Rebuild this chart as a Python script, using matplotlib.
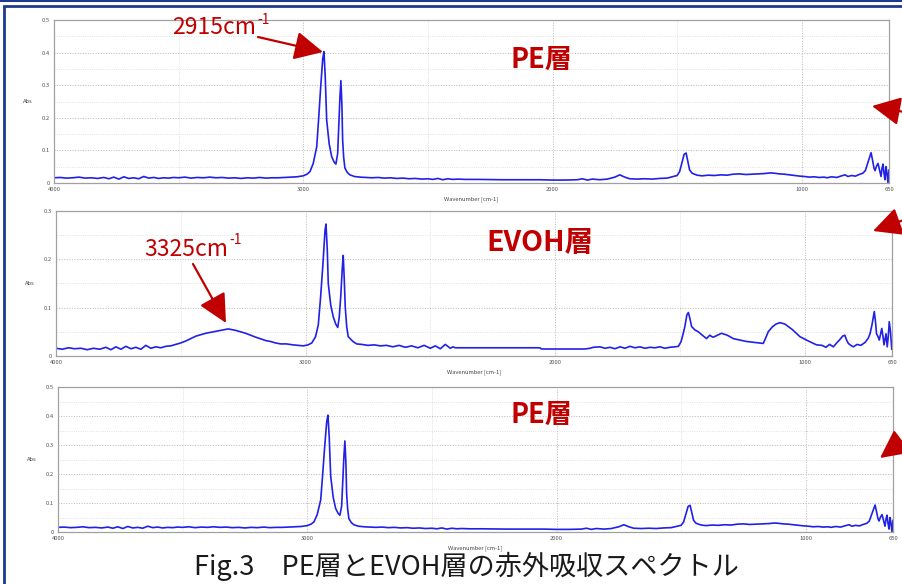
import matplotlib
matplotlib.use("Agg")
import matplotlib.pyplot as plt
from matplotlib.patches import Rectangle, FancyArrowPatch
from matplotlib.lines import Line2D

plt.rcParams['font.family'] = ['Noto Sans CJK JP', 'DejaVu Sans']

# PE layer spectrum (wavenumber cm-1, absorbance)
pe_wn = [4000, 3975, 3950, 3925, 3900, 3875, 3850, 3825, 3800, 3780, 3760, 3740, 3720, 3700,
         3680, 3660, 3640, 3620, 3600, 3580, 3560, 3540, 3520, 3500, 3475, 3450, 3425, 3400,
         3375, 3350, 3325, 3300, 3275, 3250, 3225, 3200, 3175, 3150, 3125, 3100, 3075, 3050,
         3025, 3000, 2985, 2973, 2960, 2946, 2938, 2930, 2922, 2917, 2912, 2906, 2896, 2886,
         2876, 2869, 2862, 2858, 2853, 2849, 2845, 2842, 2838, 2833, 2823, 2813, 2795, 2772,
         2750, 2725, 2700, 2675, 2650, 2625, 2600, 2575, 2550, 2525, 2500, 2480, 2460, 2440,
         2420, 2400, 2380, 2350, 2300, 2200, 2100, 2050, 2000, 1950, 1900, 1880, 1860, 1840,
         1810, 1780, 1750, 1730, 1710, 1690, 1660, 1630, 1600, 1570, 1540, 1515, 1500, 1490,
         1480, 1472, 1464, 1458, 1450, 1440, 1420, 1400, 1375, 1350, 1325, 1300, 1275, 1250,
         1225, 1200, 1175, 1150, 1125, 1110, 1090, 1070, 1050, 1030, 1007, 990, 970, 950,
         930, 910, 899, 880, 860, 840, 826, 815, 800, 785, 770, 755, 745, 738, 730, 722,
         716, 710, 706, 700, 694, 688, 682, 678, 674, 670, 666, 662, 658, 654, 650]
pe_abs = [.016, .017, .015, .016, .018, .015, .016, .014, .017, .013, .018, .012, .019, .014,
          .016, .013, .020, .015, .017, .014, .016, .015, .017, .016, .018, .015, .017, .016,
          .018, .016, .017, .015, .016, .014, .016, .015, .017, .015, .016, .016, .017, .018,
          .019, .022, .027, .035, .060, .111, .200, .295, .380, .403, .330, .193, .120, .081,
          .064, .058, .090, .163, .260, .314, .240, .132, .080, .046, .032, .025, .020, .018,
          .017, .016, .017, .015, .016, .014, .015, .013, .014, .012, .013, .011, .014, .010,
          .013, .011, .012, .011, .011, .010, .010, .010, .009, .009, .010, .013, .009, .012,
          .010, .012, .018, .025, .018, .013, .012, .013, .012, .014, .015, .020, .023, .035,
          .065, .088, .092, .070, .040, .030, .024, .022, .024, .023, .025, .024, .027, .028,
          .026, .027, .028, .029, .031, .030, .028, .027, .025, .023, .021, .020, .018, .019,
          .017, .018, .016, .019, .017, .022, .025, .020, .023, .021, .026, .030, .038, .055,
          .075, .093, .070, .045, .038, .052, .060, .040, .020, .045, .058, .030, .010, .050,
          .030, .000, .040]

# EVOH layer spectrum
evoh_wn = [4000, 3975, 3950, 3925, 3900, 3875, 3850, 3825, 3800, 3780, 3760, 3740, 3720, 3700,
           3680, 3660, 3640, 3620, 3600, 3580, 3560, 3540, 3520, 3500, 3480, 3460, 3440, 3420,
           3400, 3380, 3360, 3340, 3320, 3310, 3300, 3280, 3260, 3240, 3220, 3200, 3183, 3160,
           3140, 3120, 3100, 3076, 3050, 3030, 3009, 2990, 2975, 2960, 2949, 2940, 2931, 2922,
           2918, 2913, 2909, 2899, 2889, 2879, 2871, 2865, 2859, 2853, 2849, 2845, 2841, 2835,
           2829, 2810, 2795, 2775, 2750, 2725, 2700, 2675, 2650, 2625, 2600, 2575, 2550, 2525,
           2500, 2480, 2460, 2440, 2420, 2409, 2400, 2200, 2061, 2055, 1880, 1860, 1847, 1820,
           1800, 1780, 1760, 1740, 1720, 1700, 1680, 1660, 1640, 1620, 1600, 1580, 1560, 1540,
           1520, 1506, 1495, 1485, 1480, 1472, 1466, 1460, 1453, 1440, 1426, 1410, 1393, 1386,
           1380, 1372, 1366, 1350, 1333, 1310, 1286, 1260, 1233, 1200, 1180, 1166, 1158, 1146,
           1130, 1115, 1099, 1079, 1050, 1019, 985, 952, 930, 915, 900, 885, 870, 859,
           848, 839, 832, 825, 815, 805, 790, 775, 758, 745, 738, 730, 721, 716,
           712, 706, 701, 696, 691, 686, 682, 678, 674, 669, 665, 661, 656, 651]
evoh_abs = [.016, .014, .017, .015, .016, .013, .016, .014, .018, .013, .019, .014, .020, .015,
            .018, .014, .022, .016, .019, .017, .020, .021, .024, .027, .031, .036, .041, .044,
            .047, .049, .051, .053, .055, .056, .055, .053, .050, .047, .043, .039, .036, .032,
            .030, .027, .025, .025, .023, .022, .021, .023, .027, .040, .064, .120, .185, .260,
            .273, .220, .150, .105, .081, .066, .059, .080, .123, .180, .208, .160, .102, .060,
            .040, .030, .025, .024, .022, .023, .021, .022, .019, .022, .018, .021, .017, .022,
            .016, .021, .015, .024, .016, .019, .017, .017, .017, .0145, .0145, .016, .018, .019,
            .016, .018, .015, .019, .016, .020, .017, .019, .016, .018, .017, .019, .016, .018,
            .019, .020, .030, .050, .061, .085, .090, .078, .061, .054, .050, .043, .036, .040,
            .043, .040, .039, .043, .047, .043, .036, .033, .030, .028, .027, .026, .035, .050,
            .060, .066, .069, .066, .055, .040, .031, .023, .022, .018, .024, .019, .028, .034,
            .041, .043, .033, .026, .022, .019, .024, .022, .028, .037, .046, .065, .092, .070,
            .046, .040, .033, .045, .057, .040, .023, .035, .046, .019, .040, .071, .050, .014]

panel_ylim = [0.5, 0.3, 0.5]
x_major = [4000, 3000, 2000, 1000, 650]
x_minor = [3500, 2500, 1500]
caption = "Fig.3\u3000PE層とEVOH層の赤外吸収スペクトル"

W, H = 902, 584
fig = plt.figure(figsize=(W / 100, H / 100), dpi=100)
red = '#c00000'
frame_col = '#1f3a8a'


def box(l, t, r, b):
    return [l / W, 1 - b / H, (r - l) / W, (b - t) / H]


def fp(x, y):
    return (x / W, 1 - y / H)


# outer frame
fig.add_artist(Line2D([0, 1], [1 - 1 / H, 1 - 1 / H], color=frame_col, lw=1.5))
fig.add_artist(Rectangle(fp(4, 600), 920 / W, 594 / H, fill=False,
                         ec=frame_col, lw=2, transform=fig.transFigure))

boxes = [(54, 20, 889, 183), (56, 211, 892, 356), (58, 387, 893, 532)]
spectra = [(pe_wn, pe_abs), (evoh_wn, evoh_abs), (pe_wn, pe_abs)]

for (l, t, r, b), (wn, ab), ymax in zip(boxes, spectra, panel_ylim):
    ax = fig.add_axes(box(l, t, r, b))
    ax.plot(wn, ab, color='#2121e6', lw=1.2)
    ax.set_xlim(4000, 650)
    ax.set_ylim(0, ymax)
    ax.set_xticks(x_major)
    ax.set_xticklabels([str(v) for v in x_major])
    ax.set_xticks(x_minor, minor=True)
    yt = [round(0.1 * i, 1) for i in range(int(round(ymax * 10)) + 1)]
    ax.set_yticks(yt)
    ax.set_yticklabels(['0'] + [str(v) for v in yt[1:]])
    ax.set_yticks([v + 0.05 for v in yt[:-1]], minor=True)
    ax.grid(which='major', ls=':', lw=0.7, color='#b8b8b8')
    ax.grid(which='minor', ls=':', lw=0.6, color='#d8d8d8')
    ax.tick_params(which='both', length=0, labelsize=4.2, labelcolor='#555555', pad=3)
    for s in ax.spines.values():
        s.set_color('#a0a0a0')
        s.set_linewidth(0.9)
    ax.set_ylabel('Abs', fontsize=4.2, color='#444444', rotation=0, labelpad=10, va='center')
    ax.set_xlabel('Wavenumber [cm-1]', fontsize=4.2, color='#444444', labelpad=3)


def peak_label(x, y, num, fs=16.5):
    t = fig.text(*fp(x, y), num + 'cm', color=red, fontsize=fs, ha='left', va='center')
    fig.canvas.draw()
    bb = t.get_window_extent()
    fig.text(bb.x1 / W + 0.001, (bb.y1 - 3) / H, '-1', color=red, fontsize=fs * 0.6,
             ha='left', va='center')


def arrow(x0, y0, x1, y1):
    fig.add_artist(FancyArrowPatch(
        fp(x0, y0), fp(x1, y1), transform=fig.transFigure,
        arrowstyle='-|>,head_length=0.8,head_width=0.4', mutation_scale=22,
        color=red, lw=1.6, shrinkA=0, shrinkB=0))


peak_label(172, 28, '2915')
peak_label(144, 249, '3325')
arrow(258, 37, 323, 52)
arrow(193, 264, 226, 323)
arrow(915, 114, 872, 106)
arrow(915, 216, 873, 231)
arrow(915, 432, 880, 458)

for x, y, s, fs in [(541, 60, 'PE層', 19.5), (540, 243, 'EVOH層', 20.5), (541, 415, 'PE層', 19.5)]:
    fig.text(*fp(x, y), s, color=red, fontsize=fs, fontweight='bold',
             ha='center', va='center')

fig.text(*fp(466, 566), caption, fontsize=19.5, color='#1a1a1a', ha='center', va='center')

fig.savefig('out.png', dpi=100)
